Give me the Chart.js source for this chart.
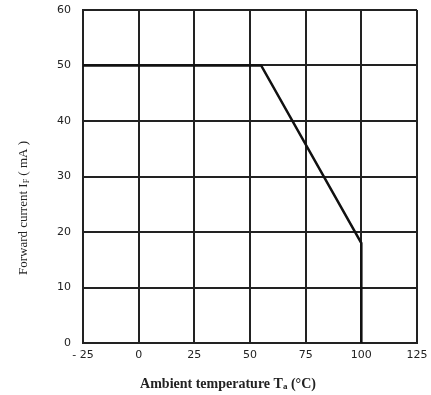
<!DOCTYPE html>
<html>
<head>
<meta charset="utf-8">
<script src="https://cdn.jsdelivr.net/npm/chart.js@4"></script>
<style>
  html, body { margin: 0; padding: 0; background: #fff; }
  #wrap { width: 431px; height: 395px; }
</style>
</head>
<body>
<div id="wrap"><canvas id="derating" width="431" height="395"></canvas></div>
<script>
// derating curve: temperature (°C) vs forward current (mA)
var temps = [-25, 55, 100, 100];
var current = [50, 50, 18, 0];
var xTicks = [-25, 0, 25, 50, 75, 100, 125];
var yTicks = [0, 10, 20, 30, 40, 50, 60];

var points = temps.map(function(t, i) { return { x: t, y: current[i] }; });

// draws a label made of [text, isSubscript] parts, centred on (cx, cy)
function drawParts(c, parts, cx, cy, font, subFont) {
    var total = 0;
    parts.forEach(function(p) {
        c.font = p[1] ? subFont : font;
        total += c.measureText(p[0]).width;
    });
    var x = cx - total / 2;
    parts.forEach(function(p) {
        c.font = p[1] ? subFont : font;
        c.fillText(p[0], x, p[1] ? cy + 3 : cy);
        x += c.measureText(p[0]).width;
    });
}

var axisTitles = {
    id: 'axisTitles',
    afterDraw: function(chart) {
        var c = chart.ctx;
        c.save();
        c.fillStyle = '#222';
        c.textBaseline = 'middle';
        c.textAlign = 'left';
        drawParts(c, [['Ambient temperature T', false], ['a', true], [' (\u00b0C)', false]],
            228, 384, 'bold 14px "Liberation Serif"', 'bold 9px "Liberation Serif"');
        c.translate(24, 208);
        c.rotate(-Math.PI / 2);
        drawParts(c, [['Forward current I', false], ['F', true], [' ( mA )', false]],
            0, 0, '13px "Liberation Serif"', '8px "Liberation Serif"');
        c.restore();
    }
};

var ctx = document.getElementById('derating').getContext('2d');
var chart = new Chart(ctx, {
    type: 'line',
    data: {
        datasets: [{
            data: points,
            borderColor: '#111',
            borderWidth: 2.5,
            pointRadius: 0,
            tension: 0,
            fill: false
        }]
    },
    plugins: [axisTitles],
    options: {
        responsive: false,
        animation: false,
        layout: { padding: { top: 10, right: 14, left: 0, bottom: 0 } },
        plugins: { legend: { display: false }, tooltip: { enabled: false } },
        scales: {
            x: {
                type: 'linear',
                min: -25, max: 125,
                afterBuildTicks: function(axis) {
                    axis.ticks = xTicks.map(function(v) { return { value: v }; });
                },
                afterFit: function(axis) {
                    axis.height = 52;
                    axis.paddingLeft = 0;
                    axis.paddingRight = 0;
                },
                grid: { color: '#222', lineWidth: 2, drawTicks: false },
                border: { color: '#222', width: 2 },
                ticks: {
                    color: '#222',
                    padding: 6,
                    font: { family: 'DejaVu Sans', size: 11 },
                    callback: function(v) { return v < 0 ? '- ' + Math.abs(v) : String(v); }
                }
            },
            y: {
                min: 0, max: 60,
                afterBuildTicks: function(axis) {
                    axis.ticks = yTicks.map(function(v) { return { value: v }; });
                },
                afterFit: function(axis) {
                    axis.width = 83;
                    axis.paddingTop = 0;
                    axis.paddingBottom = 0;
                },
                grid: { color: '#222', lineWidth: 2, drawTicks: false },
                border: { color: '#222', width: 2 },
                ticks: {
                    color: '#222',
                    padding: 12,
                    font: { family: 'DejaVu Sans', size: 11 }
                }
            }
        }
    }
});
</script>
</body>
</html>
